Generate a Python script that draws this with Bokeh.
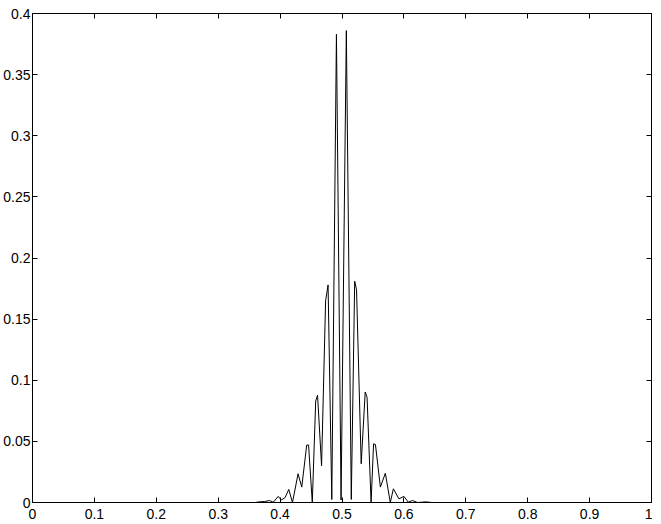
from bokeh.plotting import figure
from bokeh.models import LinearAxis, FixedTicker, Range1d
from bokeh.embed import file_html
from bokeh.resources import INLINE

# curve samples
x_vals = [0.0, 0.360, 0.366, 0.375, 0.383, 0.389, 0.397, 0.402, 0.408, 0.414,
          0.420, 0.429, 0.435, 0.443, 0.446, 0.452, 0.4575, 0.4605, 0.467,
          0.4735, 0.4775, 0.4835, 0.491, 0.4985, 0.507, 0.515, 0.5205,
          0.5235, 0.531, 0.5375, 0.5405, 0.547, 0.551, 0.554, 0.562, 0.570,
          0.578, 0.583, 0.592, 0.600, 0.607, 0.614, 0.622, 0.636, 0.645, 1.0]
y_vals = [0.0, 0.0, 0.0005, 0.0008, 0.0016, 0.0002, 0.0050, 0.0020, 0.0040,
          0.0107, 0.0, 0.0235, 0.0126, 0.0470, 0.0470, 0.0, 0.0830, 0.0877,
          0.0300, 0.1650, 0.1780, 0.0025, 0.3830, 0.0020, 0.3860, 0.0025,
          0.1810, 0.1740, 0.0317, 0.0904, 0.0860, 0.0, 0.0480, 0.0475,
          0.0126, 0.0240, 0.0, 0.0112, 0.0030, 0.0050, 0.0003, 0.0016, 0.0,
          0.0005, 0.0, 0.0]

x_ticks = [0.0, 0.1, 0.2, 0.3, 0.4, 0.5, 0.6, 0.7, 0.8, 0.9, 1.0]
x_tick_labels = ["0", "0.1", "0.2", "0.3", "0.4", "0.5", "0.6", "0.7", "0.8", "0.9", "1"]
y_ticks = [0.0, 0.05, 0.1, 0.15, 0.2, 0.25, 0.3, 0.35, 0.4]
y_tick_labels = ["0", "0.05", "0.1", "0.15", "0.2", "0.25", "0.3", "0.35", "0.4"]

FONT = "Liberation Sans"
FSIZE = "14px"

p = figure(frame_width=619, frame_height=489, output_backend="svg", toolbar_location=None,
           x_range=Range1d(0, 1), y_range=Range1d(0, 0.4),
           x_axis_location=None, y_axis_location=None,
           min_border_left=0, min_border_right=1, min_border_top=13, min_border_bottom=0)
p.xgrid.visible = False
p.ygrid.visible = False
p.outline_line_color = "black"
p.outline_line_width = 1
p.background_fill_color = "white"
p.border_fill_color = "white"

p.line(x_vals, y_vals, line_color="black", line_width=1)


def style(ax, labels, standoff=2):
    ax.axis_line_color = "black"
    ax.major_tick_line_color = "black"
    ax.major_tick_in = 5
    ax.major_tick_out = 0
    ax.minor_tick_line_color = None
    ax.major_label_text_font = FONT
    if labels:
        ax.major_label_text_color = "black"
        ax.major_label_text_font_size = FSIZE
        ax.major_label_standoff = standoff
    else:
        ax.major_label_text_color = None
        ax.major_label_text_font_size = "1px"
        ax.major_label_standoff = 0


xb = LinearAxis(ticker=FixedTicker(ticks=x_ticks),
                major_label_overrides={t: s for t, s in zip(x_ticks, x_tick_labels)})
style(xb, True, standoff=6)
p.add_layout(xb, "below")
xa = LinearAxis(ticker=FixedTicker(ticks=x_ticks),
                major_label_overrides={t: "" for t in x_ticks})
style(xa, False)
p.add_layout(xa, "above")

yl = LinearAxis(ticker=FixedTicker(ticks=y_ticks),
                major_label_overrides={t: s for t, s in zip(y_ticks, y_tick_labels)})
style(yl, True, standoff=2)
p.add_layout(yl, "left")
yr = LinearAxis(ticker=FixedTicker(ticks=y_ticks),
                major_label_overrides={t: "" for t in y_ticks})
style(yr, False)
p.add_layout(yr, "right")

open("out.html", "w").write(file_html(p, INLINE))
